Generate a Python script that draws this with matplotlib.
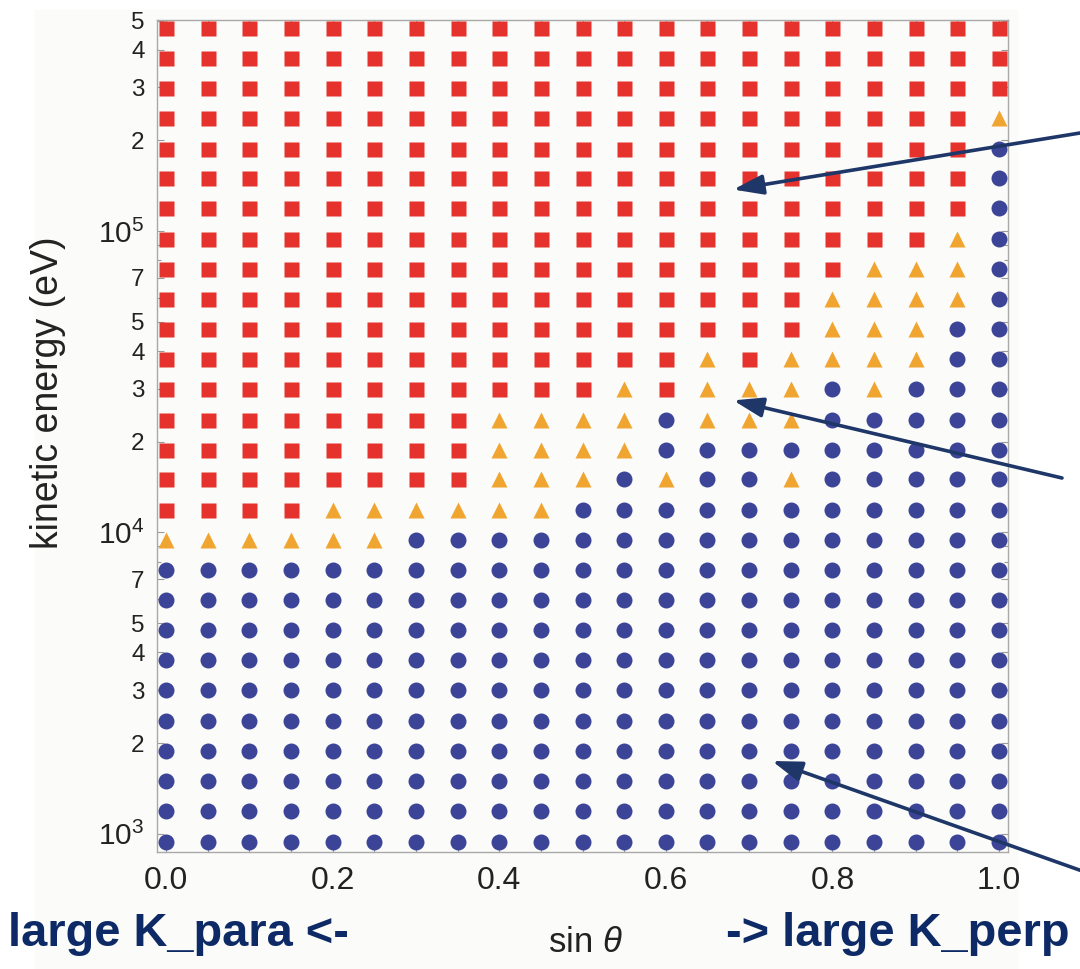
import matplotlib
matplotlib.use("Agg")
import matplotlib.pyplot as plt
from matplotlib.patches import Rectangle
from matplotlib.ticker import FixedLocator, FixedFormatter

plt.rcParams['font.family'] = ['Liberation Sans', 'DejaVu Sans']
plt.rcParams['mathtext.fontset'] = 'custom'
plt.rcParams['mathtext.rm'] = 'Liberation Sans'
plt.rcParams['mathtext.it'] = 'Liberation Sans:italic'

# ---------------- data ----------------
sin_theta = [0.00, 0.05, 0.10, 0.15, 0.20, 0.25, 0.30, 0.35, 0.40, 0.45, 0.50,
             0.55, 0.60, 0.65, 0.70, 0.75, 0.80, 0.85, 0.90, 0.95, 1.00]

energy_eV = [940, 1190, 1500, 1880, 2370, 2990, 3760, 4730, 5960, 7500,
             9440, 11900, 15000, 18800, 23700, 29900, 37600, 47300, 59600, 75000,
             94400, 119000, 150000, 188000, 237000, 299000, 376000, 473000]

# regime of each point, one string per energy row (bottom -> top),
# one character per sin_theta column: S = red square, T = orange triangle, C = blue circle
regime_rows = [
    "CCCCCCCCCCCCCCCCCCCCC",
    "CCCCCCCCCCCCCCCCCCCCC",
    "CCCCCCCCCCCCCCCCCCCCC",
    "CCCCCCCCCCCCCCCCCCCCC",
    "CCCCCCCCCCCCCCCCCCCCC",
    "CCCCCCCCCCCCCCCCCCCCC",
    "CCCCCCCCCCCCCCCCCCCCC",
    "CCCCCCCCCCCCCCCCCCCCC",
    "CCCCCCCCCCCCCCCCCCCCC",
    "CCCCCCCCCCCCCCCCCCCCC",
    "TTTTTTCCCCCCCCCCCCCCC",
    "SSSSTTTTTTCCCCCCCCCCC",
    "SSSSSSSSTTTCTCCTCCCCC",
    "SSSSSSSSTTTTCCCCCCCCC",
    "SSSSSSSSTTTTCTTTCCCCC",
    "SSSSSSSSSSSTSTTTCTCCC",
    "SSSSSSSSSSSSSTSTTTTCC",
    "SSSSSSSSSSSSSSSSTTTCC",
    "SSSSSSSSSSSSSSSSTTTTC",
    "SSSSSSSSSSSSSSSSSTTTC",
    "SSSSSSSSSSSSSSSSSSSTC",
    "SSSSSSSSSSSSSSSSSSSSC",
    "SSSSSSSSSSSSSSSSSSSSC",
    "SSSSSSSSSSSSSSSSSSSSC",
    "SSSSSSSSSSSSSSSSSSSST",
    "SSSSSSSSSSSSSSSSSSSSS",
    "SSSSSSSSSSSSSSSSSSSSS",
    "SSSSSSSSSSSSSSSSSSSSS",
]

x_ticks = [0.0, 0.2, 0.4, 0.6, 0.8, 1.0]
x_tick_labels = ["0.0", "0.2", "0.4", "0.6", "0.8", "1.0"]
y_ticks = [1e3, 2e3, 3e3, 4e3, 5e3, 7e3, 1e4, 2e4, 3e4, 4e4, 5e4, 7e4,
           1e5, 2e5, 3e5, 4e5, 5e5]
y_tick_labels = [r"$\mathregular{10^{3}}$", "2", "3", "4", "5", "7",
                 r"$\mathregular{10^{4}}$", "2", "3", "4", "5", "7",
                 r"$\mathregular{10^{5}}$", "2", "3", "4", "5"]
y_minor = [6e3, 8e3, 9e3, 6e4, 8e4, 9e4]

# ---------------- styles ----------------
styles = {
    "S": dict(marker="s", ms=10.8, color="#E5322D"),
    "T": dict(marker="^", ms=12.0, color="#F0A531"),
    "C": dict(marker="o", ms=11.5, color="#3B4497"),
}
NAVY = "#0D2A66"
ARROW = "#1E3768"

W, H = 1080, 969
fig = plt.figure(figsize=(W / 100, H / 100), dpi=100)
fig.patch.set_facecolor("white")
fig.add_artist(Rectangle((35 / W, 0), (1017 - 35) / W, (H - 10) / H,
                         transform=fig.transFigure, color="#FBFBF9", zorder=-10))

ax = fig.add_axes([157 / W, (H - 852) / H, (1008 - 157) / W, (852 - 20) / H])
ax.set_facecolor("none")

for key, st in styles.items():
    xs, ys = [], []
    for row, e in zip(regime_rows, energy_eV):
        for ch, s in zip(row, sin_theta):
            if ch == key:
                xs.append(s)
                ys.append(e)
    ax.plot(xs, ys, linestyle="none", marker=st["marker"], ms=st["ms"],
            color=st["color"], mec="none", zorder=3)

ax.set_yscale("log")
ax.set_xlim(-0.0108, 1.0108)
ax.set_ylim(870, 5.02e5)

ax.xaxis.set_major_locator(FixedLocator(x_ticks))
ax.xaxis.set_major_formatter(FixedFormatter(x_tick_labels))
ax.xaxis.set_minor_locator(FixedLocator([i * 0.05 for i in range(21)]))
ax.yaxis.set_major_locator(FixedLocator(y_ticks))
ax.yaxis.set_major_formatter(FixedFormatter(y_tick_labels))
ax.yaxis.set_minor_locator(FixedLocator(y_minor))

for sp in ax.spines.values():
    sp.set_color("#A9A9A9")
    sp.set_linewidth(1.0)

ax.tick_params(which="both", direction="in", top=True, right=True,
               color="#9A9A9A", width=0.8)
ax.tick_params(which="major", length=5)
ax.tick_params(which="minor", length=3)
ax.tick_params(axis="x", which="major", labelsize=23, pad=10, labelcolor="#222222")
ax.tick_params(axis="y", which="major", labelsize=17.5, pad=9, labelcolor="#222222")
for lab in ax.get_yticklabels():
    if "10" in lab.get_text():
        lab.set_fontsize(21.5)

# axis labels
fig.text(48 / W, 1 - 393 / H, "kinetic energy (eV)", rotation=90,
         ha="center", va="center", fontsize=27, color="#222222")
fig.text(585 / W, 1 - 942 / H, r"sin $\it{\theta}$", ha="center", va="center",
         fontsize=25, color="#222222")

# bottom annotations
fig.text(8 / W, 1 - 946 / H, "large K_para <-", ha="left", va="baseline",
         fontsize=33.8, fontweight="bold", color=NAVY)
fig.text(1070 / W, 1 - 946 / H, "-> large K_perp", ha="right", va="baseline",
         fontsize=33.8, fontweight="bold", color=NAVY)

# arrows from the right margin into the regimes
arrow_kw = dict(arrowstyle="-|>,head_length=1.8,head_width=0.6", color=ARROW,
                lw=2.6, shrinkA=0, shrinkB=0)
arrows = [((0.681, 1.374e5), (1080, H - 133)),
          ((0.681, 2.744e4), (1062, H - 478)),
          ((0.7275, 1744), (1085, H - 872))]
for tip, tail in arrows:
    ax.annotate("", xy=tip, xycoords="data", xytext=tail,
                textcoords="figure pixels", arrowprops=arrow_kw,
                annotation_clip=False, zorder=5)

fig.savefig("out.png", dpi=100, facecolor=fig.get_facecolor())
